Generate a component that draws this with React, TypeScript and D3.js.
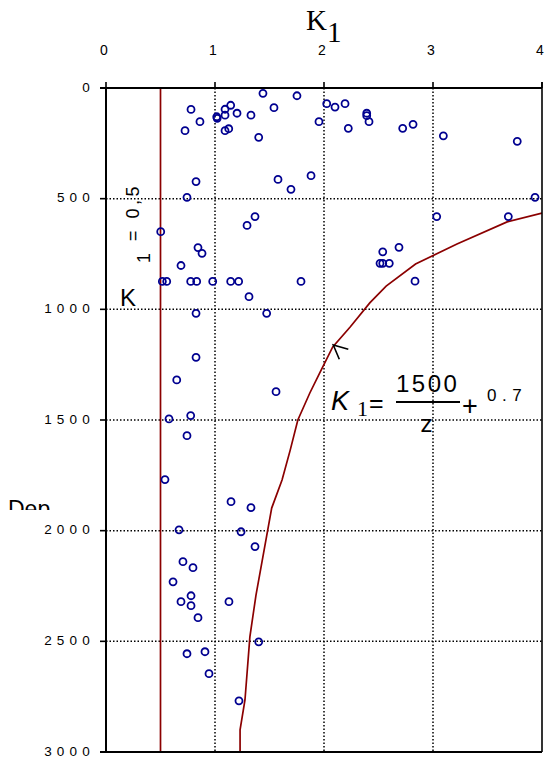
import React from "react";
import * as d3 from "d3";

// ---- data ----
const K_TICKS = [0, 1, 2, 3, 4];
const DEPTH_TICKS = [0, 500, 1000, 1500, 2000, 2500, 3000];
const K_GRID = [1, 2, 3];
const DEPTH_GRID = [500, 1000, 1500, 2000, 2500];
const K_CONST = 0.5;

// observed K1 values and depths (scatter)
const obsK = [
  1.44, 1.752, 2.025, 2.101, 2.193, 1.541, 1.144, 1.092, 0.78, 0.862,
  0.725, 1.016, 1.02, 1.092, 1.202, 1.33, 1.092, 1.126, 1.401, 1.954,
  2.392, 2.392, 2.413, 2.223, 2.722, 2.817, 3.095, 3.773, 0.826, 0.743,
  1.578, 1.697, 1.881, 3.936, 1.367, 1.294, 3.034, 3.691, 0.502, 0.844,
  0.881, 2.688, 2.539, 0.688, 2.514, 2.539, 2.599, 0.517, 0.557, 0.777,
  0.832, 0.979, 1.144, 1.217, 1.789, 2.835, 1.312, 0.826, 1.474, 0.826,
  0.649, 1.56, 0.578, 0.777, 0.743, 0.541, 1.147, 1.33, 0.67, 1.239,
  1.367, 0.706, 0.798, 0.615, 0.688, 0.78, 0.78, 1.128, 0.844, 1.401,
  0.743, 0.908, 0.945, 1.22,
];
const obsDepth = [
  24, 35, 71, 86, 71, 89, 78, 96, 97, 152,
  193, 130, 137, 123, 114, 123, 193, 184, 223, 152,
  114, 125, 152, 182, 182, 164, 216, 241, 423, 494,
  413, 458, 396, 494, 581, 621, 581, 581, 649, 721,
  747, 720, 740, 802, 792, 792, 792, 874, 874, 874,
  874, 874, 874, 874, 874, 873, 943, 1018, 1018, 1217,
  1319, 1372, 1495, 1480, 1571, 1769, 1869, 1896, 1996, 2005,
  2072, 2140, 2167, 2231, 2321, 2294, 2339, 2321, 2393, 2502,
  2556, 2547, 2646, 2769,
];

// fitted curve K1 = 1500/z + 0.7 as drawn in the picture
const curveDepth = [565, 605, 705, 795, 895, 971, 1080, 1170, 1288, 1378, 1500, 1636, 1771, 1898, 2291, 2480, 2765, 2900, 3000];
const curveK = [4.0, 3.68, 3.22, 2.84, 2.57, 2.42, 2.24, 2.08, 1.96, 1.87, 1.76, 1.69, 1.615, 1.52, 1.376, 1.32, 1.275, 1.23, 1.23];

const SANS = "'Liberation Sans', Arial, sans-serif";
const SERIF = "'Liberation Serif', 'Times New Roman', serif";

export default function App() {
  const x = d3.scaleLinear().domain([0, 4]).range([106, 542]);
  const y = d3.scaleLinear().domain([0, 3000]).range([88, 752]);
  const [x0, x1] = x.range();
  const [y0, y1] = y.range();

  const line = d3
    .line<number>()
    .x((i) => x(curveK[i]))
    .y((i) => y(curveDepth[i]));
  const curvePath = line(curveDepth.map((_, i) => i)) || "";

  const navy = "#000090";
  const red = "#8b0000";

  return (
    <svg
      width={546}
      height={760}
      style={{ position: "absolute", left: 0, top: 0, background: "#fff" }}
      fontFamily={SANS}
    >
      <defs>
        <clipPath id="depclip">
          <rect x={0} y={480} width={100} height={30} />
        </clipPath>
        <clipPath id="plotclip">
          <rect x={x0} y={y0} width={x1 - x0} height={y1 - y0} />
        </clipPath>
      </defs>
      <rect x={0} y={0} width={546} height={760} fill="#fff" />

      {/* grid */}
      {K_GRID.map((k) => (
        <line key={"gk" + k} x1={x(k)} x2={x(k)} y1={y0} y2={y1} stroke="#000" strokeWidth={1.5} strokeDasharray="1.5 2" />
      ))}
      {DEPTH_GRID.map((d) => (
        <line key={"gd" + d} x1={x0} x2={x1} y1={y(d)} y2={y(d)} stroke="#000" strokeWidth={1.5} strokeDasharray="1.5 2" />
      ))}

      {/* K1 = 0.5 line */}
      <line x1={x(K_CONST)} x2={x(K_CONST)} y1={y0} y2={y1} stroke={red} strokeWidth={1.7} />

      {/* curve */}
      <path d={curvePath} fill="none" stroke={red} strokeWidth={1.7} clipPath="url(#plotclip)" />

      {/* observations */}
      {obsK.map((k, i) => (
        <circle key={"p" + i} cx={x(k)} cy={y(obsDepth[i])} r={3.5} fill="none" stroke={navy} strokeWidth={1.8} />
      ))}

      {/* axes frame */}
      <line x1={x0} x2={x0} y1={y0} y2={y1} stroke="#000" strokeWidth={2} />
      <line x1={x0 - 6} x2={x1} y1={y0} y2={y0} stroke="#000" strokeWidth={2} />
      <line x1={x1} x2={x1} y1={y0 - 6} y2={y1} stroke="#000" strokeWidth={1.6} />
      <line x1={x0 - 6} x2={x1} y1={y1} y2={y1} stroke="#000" strokeWidth={2} />

      {/* top ticks + labels */}
      {K_TICKS.map((k) => (
        <g key={"tk" + k}>
          <line x1={x(k)} x2={x(k)} y1={y0 - 6} y2={y0} stroke="#000" strokeWidth={1.6} />
          <text x={x(k) - 2} y={55} fontSize={14} textAnchor="middle" fill="#000">
            {k}
          </text>
        </g>
      ))}

      {/* left ticks + labels */}
      {DEPTH_TICKS.map((d) => (
        <g key={"td" + d}>
          <line x1={x0 - 6} x2={x0} y1={y(d)} y2={y(d)} stroke="#000" strokeWidth={1.6} />
          <text x={95} y={y(d) + 3.5} fontSize={13.5} textAnchor="end" letterSpacing={5.2} fill="#000">
            {d}
          </text>
        </g>
      ))}

      {/* title K1 */}
      <text x={306} y={30} fontFamily={SERIF} fontSize={29} fill="#000">
        K
        <tspan dy={11.5}>1</tspan>
      </text>

      {/* clipped axis label */}
      <text x={8} y={517} fontSize={23} fill="#000" clipPath="url(#depclip)">
        Dep
      </text>

      {/* K1 = 0.5 label */}
      <text x={120} y={306} fontSize={24} fill="#000">
        K
      </text>
      <text transform="translate(139,263) rotate(-90)" fontSize={18} letterSpacing={3.5} fill="#000">
        <tspan dy={11}>1</tspan>
        <tspan dy={-11}> = 0,5</tspan>
      </text>

      {/* formula */}
      <text x={331} y={410} fontSize={27} fontStyle="italic" fill="#000">
        K
      </text>
      <text x={357} y={416} fontFamily={SERIF} fontSize={22} fill="#000">
        1
      </text>
      <text x={369} y={412} fontSize={25} fill="#000">
        =
      </text>
      <text x={396} y={392} fontSize={24} letterSpacing={2.5} fill="#000">
        1500
      </text>
      <line x1={396} x2={460} y1={402} y2={402} stroke="#000" strokeWidth={2} />
      <text x={426.5} y={432} fontSize={24} textAnchor="middle" fill="#000">
        z
      </text>
      <text x={462} y={415} fontSize={27} fill="#000">
        +
      </text>
      <text x={487} y={401} fontSize={17} letterSpacing={5.5} fill="#000">
        0.7
      </text>

      {/* arrow head */}
      <path d="M348.3,349.3 L333.3,345 L339.3,359.3" fill="none" stroke="#000" strokeWidth={1.6} />
    </svg>
  );
}
